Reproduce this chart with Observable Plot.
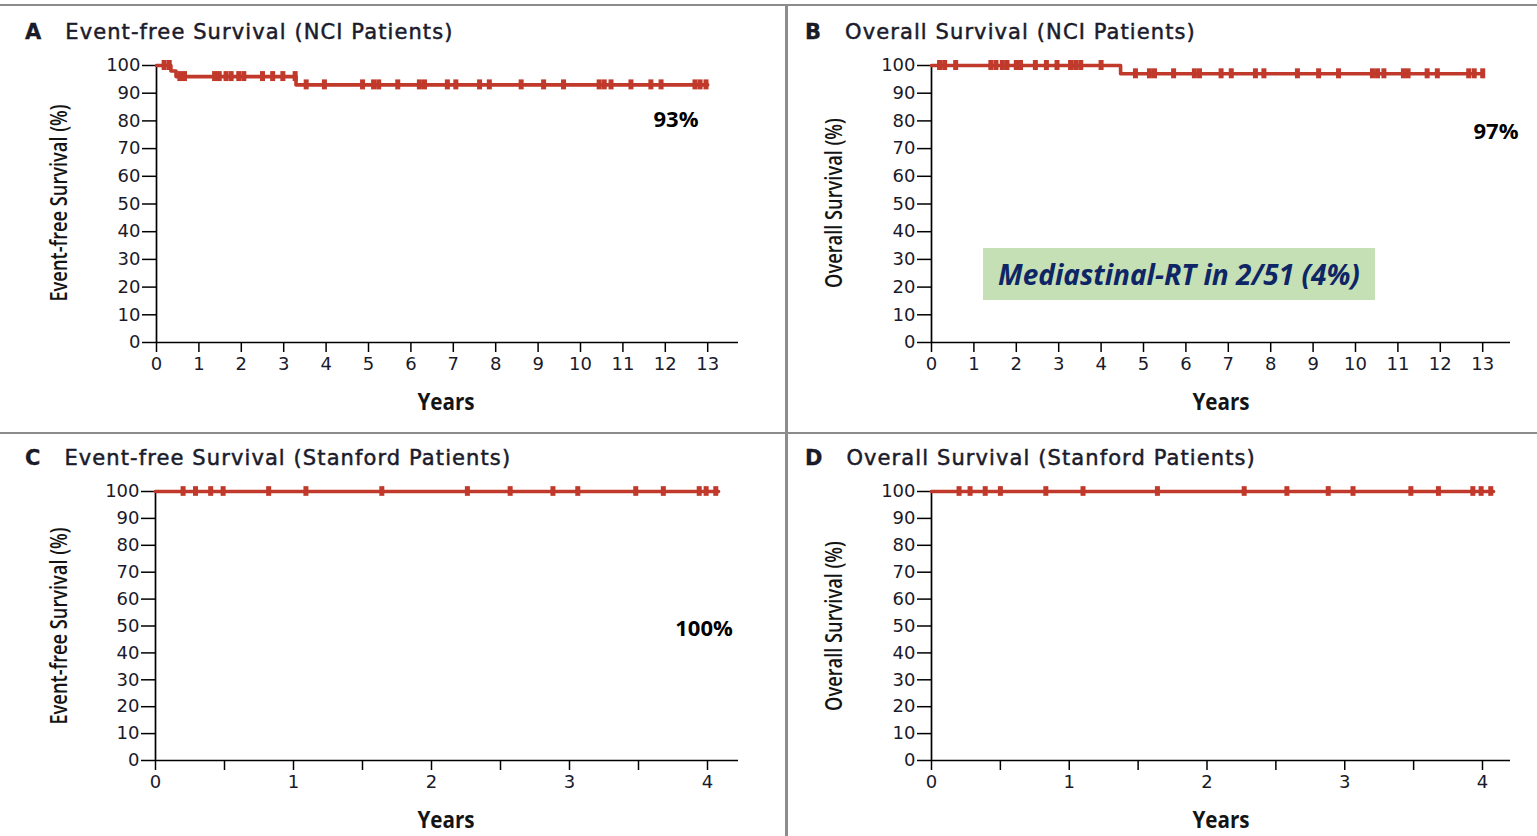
<!DOCTYPE html>
<html>
<head>
<meta charset="utf-8">
<script src="https://cdn.jsdelivr.net/npm/d3@7"></script>
<script src="https://cdn.jsdelivr.net/npm/@observablehq/plot@0.6"></script>
<style>
  html, body { margin: 0; padding: 0; background: #fff; }
  body { width: 1537px; height: 836px; overflow: hidden; position: relative; }
  .abs { position: absolute; }
  .title { font-family: "DejaVu Sans", sans-serif; font-weight: 400; font-size: 21px; letter-spacing: 1.1px; color: #1b1b2b; white-space: nowrap; -webkit-text-stroke: 0.5px #1b1b2b; }
  .title b { font-weight: 700; margin-right: 24px; letter-spacing: 0; -webkit-text-stroke: 0.3px #111; }
  .ylab { font-family: "Open Sans", sans-serif; font-weight: 600; font-size: 24px; color: #141414; white-space: nowrap; transform: translate(-50%, -50%) rotate(-90deg) scaleX(0.76); }
  .xlab { font-family: "Open Sans", sans-serif; font-weight: 700; font-size: 24px; color: #141414; white-space: nowrap; transform: translate(-50%, -50%) scaleX(0.86); }
  .pct { font-family: "Open Sans", "DejaVu Sans", sans-serif; font-weight: 700; font-size: 22px; color: #000; white-space: nowrap; transform: translate(-50%, -50%); }
  .note { background: #c5e0b4; font-family: "Noto Sans", "Open Sans", sans-serif; font-style: italic; font-weight: 700; font-size: 28px; color: #0e2566; display: flex; align-items: center; justify-content: center; white-space: nowrap; }
  .div { background: #8c8c8c; z-index: 10; }
  svg { overflow: visible; }
</style>
</head>
<body>
<script>
// ---------- DATA ----------
// Panel A: Event-free survival, NCI patients
const aStepYears = [0, 0.34, 0.46, 3.29, 13.0];
const aStepSurv  = [100, 98, 96, 93, 93];
const aCensor = [0.18, 0.30, 0.55, 0.66, 1.37, 1.48, 1.64, 1.76, 1.94, 2.06, 2.5, 2.74, 2.98, 3.27,
  3.53, 3.96, 4.86, 5.12, 5.24, 5.69, 6.2, 6.32, 6.86, 7.06, 7.62, 7.85, 8.6, 9.13, 9.6,
  10.44, 10.56, 10.72, 11.19, 11.66, 11.9, 12.7, 12.82, 12.96];

// Panel B: Overall survival, NCI patients
const bStepYears = [0, 4.46, 13.0];
const bStepSurv  = [100, 97, 97];
const bCensor = [0.19, 0.31, 0.57, 1.4, 1.52, 1.67, 1.78, 2.0, 2.1, 2.45, 2.71, 2.96, 3.28, 3.4, 3.52,
  4.0, 4.81, 5.14, 5.26, 5.71, 6.2, 6.32, 6.83, 7.07, 7.64, 7.84, 8.63, 9.13, 9.6,
  10.4, 10.52, 10.67, 11.13, 11.24, 11.69, 11.93, 12.67, 12.8, 13.0];

// Panel C: Event-free survival, Stanford patients
const cStepYears = [0, 4.08];
const cStepSurv  = [100, 100];
const cCensor = [0.2, 0.29, 0.4, 0.49, 0.82, 1.09, 1.64, 2.26, 2.57, 2.88, 3.06, 3.48, 3.68, 3.94, 3.99, 4.06];

// Panel D: Overall survival, Stanford patients
const dStepYears = [0, 4.08];
const dStepSurv  = [100, 100];
const dCensor = [0.2, 0.28, 0.39, 0.5, 0.83, 1.1, 1.64, 2.27, 2.58, 2.88, 3.06, 3.48, 3.68, 3.93, 3.99, 4.06];

const yTicks = [0, 10, 20, 30, 40, 50, 60, 70, 80, 90, 100];
const xTicksNCI = [0, 1, 2, 3, 4, 5, 6, 7, 8, 9, 10, 11, 12, 13];
const xTicksStanford = [0, 1, 2, 3, 4];
const xMinorStanford = [0.5, 1.5, 2.5, 3.5];

const titles = {
  A: "Event-free Survival (NCI Patients)",
  B: "Overall Survival (NCI Patients)",
  C: "Event-free Survival (Stanford Patients)",
  D: "Overall Survival (Stanford Patients)"
};
const yLabels = { A: "Event-free Survival (%)", B: "Overall Survival (%)", C: "Event-free Survival (%)", D: "Overall Survival (%)" };
const xLabel = "Years";
const pctLabels = { A: "93%", B: "97%", C: "100%" };
const noteText = "Mediastinal-RT in 2/51 (4%)";

// ---------- HELPERS ----------
const RED = "#c0392b";
function survAt(t, xs, ys) {
  let s = ys[0];
  for (let i = 0; i < xs.length; i++) if (xs[i] <= t) s = ys[i];
  return s;
}
function add(html, cls, css) {
  const d = document.createElement("div");
  d.className = "abs " + cls;
  Object.assign(d.style, css);
  d.innerHTML = html;
  document.body.appendChild(d);
  return d;
}

function panel(cfg) {
  const curve = cfg.xs.map((x, i) => ({ x, s: cfg.ys[i] }));
  const cens = cfg.censor.map(t => ({ t, s: survAt(t, cfg.xs, cfg.ys) }));
  const marks = [
    Plot.axisY({ ticks: yTicks, tickSize: 14, tickPadding: 2, stroke: "#000", strokeWidth: 1.5, fill: "#1a1a2a", label: null }),
    Plot.axisX({ ticks: cfg.xticks, tickFormat: d3.format("d"), tickSize: 10, tickPadding: 5, stroke: "#000", strokeWidth: 1.5, fill: "#1a1a2a", label: null }),
  ];
  if (cfg.minor) marks.push(Plot.axisX({ ticks: cfg.minor, tickSize: 10, tickFormat: () => "", stroke: "#000", strokeWidth: 1.5, label: null }));
  marks.push(
    Plot.ruleX([0], { y1: 0, y2: 100, stroke: "#000", strokeWidth: 1.7 }),
    Plot.ruleY([0], { stroke: "#000", strokeWidth: 1.7 }),
    Plot.line(curve, { x: "x", y: "s", curve: "step-after", stroke: RED, strokeWidth: 3.6 }),
    Plot.ruleX(cens, { x: "t", y1: d => d.s - cfg.tickHalf, y2: d => d.s + cfg.tickHalf, stroke: RED, strokeWidth: 5 })
  );
  const chart = Plot.plot({
    width: cfg.width, height: cfg.height,
    marginLeft: cfg.mL, marginRight: cfg.mR, marginTop: cfg.mT, marginBottom: cfg.mB,
    x: { domain: [0, cfg.xmax] },
    y: { domain: [0, 100] },
    style: { background: "transparent", fontFamily: "'DejaVu Sans', sans-serif", fontSize: "18px", color: "#000", overflow: "visible" },
    marks
  });
  chart.style.position = "absolute";
  chart.style.left = cfg.left + "px";
  chart.style.top = cfg.top + "px";
  chart.style.maxWidth = "none";
  document.body.appendChild(chart);
}

// ---------- PANELS ----------
panel({ left: 0, top: 0, width: 787, height: 430, mL: 156, mR: 49, mT: 65, mB: 88,
  xmax: (738 - 156) / 42.4, xticks: xTicksNCI, xs: aStepYears, ys: aStepSurv, censor: aCensor, tickHalf: 1.8 });
panel({ left: 775, top: 0, width: 762, height: 430, mL: 156, mR: 27, mT: 65, mB: 88,
  xmax: (1510 - 931) / 42.4, xticks: xTicksNCI, xs: bStepYears, ys: bStepSurv, censor: bCensor, tickHalf: 1.8 });
panel({ left: 0, top: 433, width: 787, height: 403, mL: 155, mR: 49, mT: 58, mB: 76,
  xmax: (738 - 155) / 138, xticks: xTicksStanford, minor: xMinorStanford, xs: cStepYears, ys: cStepSurv, censor: cCensor, tickHalf: 1.8 });
panel({ left: 775, top: 433, width: 762, height: 403, mL: 156, mR: 27, mT: 58, mB: 76,
  xmax: (1510 - 931) / 137.75, xticks: xTicksStanford, minor: xMinorStanford, xs: dStepYears, ys: dStepSurv, censor: dCensor, tickHalf: 1.8 });

// ---------- TEXT ----------
add(`<b>A</b>${titles.A}`, "title", { left: "25px", top: "20px" });
add(`<b>B</b>${titles.B}`, "title", { left: "805px", top: "20px" });
add(`<b>C</b>${titles.C}`, "title", { left: "25px", top: "446px" });
add(`<b>D</b>${titles.D}`, "title", { left: "805px", top: "446px" });

add(yLabels.A, "ylab", { left: "57px", top: "203px" });
add(yLabels.B, "ylab", { left: "832px", top: "203px" });
add(yLabels.C, "ylab", { left: "57px", top: "626px" });
add(yLabels.D, "ylab", { left: "832px", top: "626px" });

add(xLabel, "xlab", { left: "446px", top: "400px" });
add(xLabel, "xlab", { left: "1221px", top: "400px" });
add(xLabel, "xlab", { left: "446px", top: "818px" });
add(xLabel, "xlab", { left: "1221px", top: "818px" });

add(pctLabels.A, "pct", { left: "676px", top: "118px" });
add(pctLabels.B, "pct", { left: "1496px", top: "130px" });
add(pctLabels.C, "pct", { left: "704px", top: "627px" });

add(noteText, "note", { left: "983px", top: "248px", width: "392px", height: "52px" });

// ---------- DIVIDERS ----------
add("", "div", { left: "0px", top: "4px", width: "1537px", height: "2px" });
add("", "div", { left: "0px", top: "432px", width: "1537px", height: "2px" });
add("", "div", { left: "785px", top: "5px", width: "3px", height: "831px" });
</script>
</body>
</html>
